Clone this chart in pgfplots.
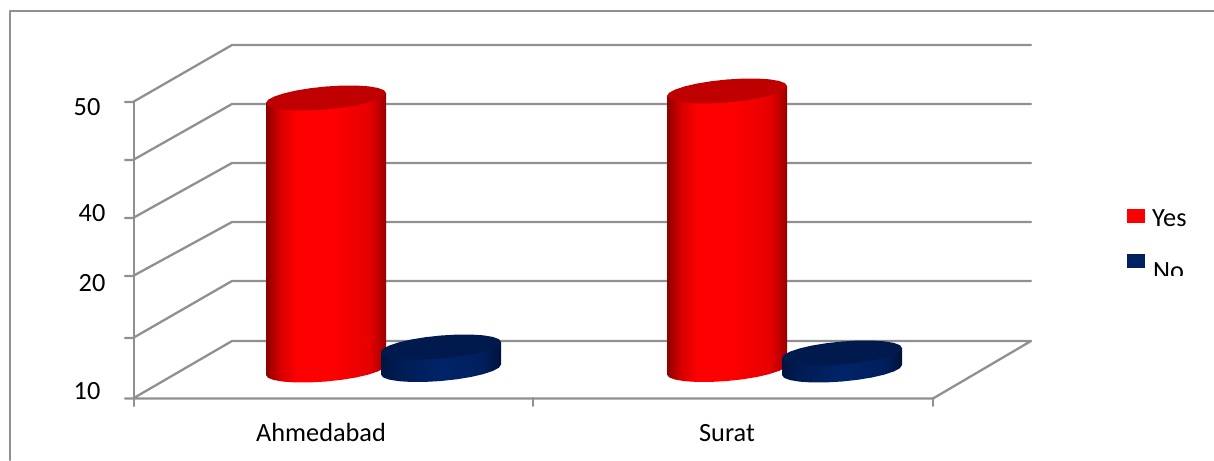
\documentclass[border=0pt]{standalone}
\usepackage{pgfplots}
\pgfplotsset{compat=1.18}
\usepackage{pgfplotstable}
\usepackage{fontspec}
\setmainfont{Carlito}
\definecolor{gridc}{HTML}{909090}
\definecolor{redtop}{HTML}{C00000}
\definecolor{bluetop}{HTML}{001A4D}
\definecolor{legblue}{HTML}{002060}
\definecolor{ra}{HTML}{8C0000}
\definecolor{rb}{HTML}{D80000}
\definecolor{rc}{HTML}{FF0000}
\definecolor{rd}{HTML}{E60000}
\definecolor{re}{HTML}{C00000}
\definecolor{rf}{HTML}{940000}
\definecolor{ba}{HTML}{001440}
\definecolor{bb}{HTML}{001C54}
\definecolor{bc}{HTML}{002468}
\definecolor{bd}{HTML}{001E5C}
\definecolor{be}{HTML}{001238}
\pgfdeclarehorizontalshading{redcyl}{100bp}{color(0bp)=(ra);color(25bp)=(ra);color(31bp)=(rb);color(38bp)=(rc);color(52bp)=(rc);color(68bp)=(rd);color(72bp)=(re);color(75bp)=(rf);color(100bp)=(rf)}
\pgfdeclarehorizontalshading{bluecyl}{100bp}{color(0bp)=(ba);color(25bp)=(ba);color(32bp)=(bb);color(50bp)=(bc);color(68bp)=(bd);color(75bp)=(be);color(100bp)=(be)}
% unit ellipse, c = cos t, s = sin t
\pgfplotstableread{
c s
1 0
0.966 0.259
0.866 0.5
0.707 0.707
0.5 0.866
0.259 0.966
0 1
-0.259 0.966
-0.5 0.866
-0.707 0.707
-0.866 0.5
-0.966 0.259
-1 0
-0.966 -0.259
-0.866 -0.5
-0.707 -0.707
-0.5 -0.866
-0.259 -0.966
0 -1
0.259 -0.966
0.5 -0.866
0.707 -0.707
0.866 -0.5
0.966 -0.259
1 0
}\ellipsetable
% side of a cylinder: h=1 top, h=0 bottom
\pgfplotstableread{
c s h
-1 0 1
-1 0 0
-0.966 -0.259 0
-0.866 -0.5 0
-0.707 -0.707 0
-0.5 -0.866 0
-0.259 -0.966 0
0 -1 0
0.259 -0.966 0
0.5 -0.866 0
0.707 -0.707 0
0.866 -0.5 0
0.966 -0.259 0
1 0 0
1 0 1
}\sidetable
% #1 centre x, #2 top centre y, #3 bottom centre y, #4 shading, #5 top colour
\newcommand{\cyl}[5]{%
\addplot[draw=none,shading=#4] table[x expr={#1+60*\thisrow{c}},y expr={(#2)*\thisrow{h}+(#3)*(1-\thisrow{h})-5*\thisrow{c}-11.5*\thisrow{s}}] {\sidetable} -- cycle;
\addplot[draw=none,fill=#5] table[x expr={#1+60*\thisrow{c}},y expr={(#2)-5*\thisrow{c}-11.5*\thisrow{s}}] {\ellipsetable} -- cycle;
}
\begin{document}
\begin{tikzpicture}
\path[use as bounding box] (0,0) rectangle (1214pt,460pt);
\begin{axis}[
  at={(0,0)},anchor=south west,
  scale only axis,width=1214pt,height=460pt,
  xmin=0,xmax=1214,ymin=0,ymax=460,y dir=reverse,
  hide axis,clip=true,
  every axis plot/.append style={line cap=round,line join=round}]
% frame
\addplot[gridc,line width=2.3pt] coordinates {(10,460) (10,11) (1214,11)};
% back wall and side wall gridlines
\addplot[gridc,line width=2.3pt] coordinates {(125,102) (133,102) (232,45) (1031,45)};
\addplot[gridc,line width=2.3pt] coordinates {(125,160) (133,160) (232,104) (1031,104)};
\addplot[gridc,line width=2.3pt] coordinates {(125,218) (133,218) (232,163) (1031,163)};
\addplot[gridc,line width=2.3pt] coordinates {(125,276) (133,276) (232,222) (1031,222)};
\addplot[gridc,line width=2.3pt] coordinates {(125,338) (133,338) (232,281) (1031,281)};
\addplot[gridc,line width=2.3pt] coordinates {(125,398.5) (133,398.5) (232,341) (1031,341) (933,398.5) (133,398.5)};
\addplot[gridc,line width=2.3pt] coordinates {(134,102) (134,406)};
\addplot[gridc,line width=1.6pt] coordinates {(533,398) (533,406)};
\addplot[gridc,line width=1.6pt] coordinates {(933,398) (933,406)};
% cylinders
\cyl{326}{98}{370}{redcyl}{redtop}
\cyl{441}{347}{369.5}{bluecyl}{bluetop}
\cyl{727}{91}{369.5}{redcyl}{redtop}
\cyl{842}{353}{370}{bluecyl}{bluetop}
% legend
\addplot[draw=none,fill=red] coordinates {(1127,209) (1145,209) (1145,223) (1127,223)} -- cycle;
\addplot[draw=none,fill=legblue] coordinates {(1127,254) (1145,254) (1145,268) (1127,268)} -- cycle;
% text
\def\fs{\fontsize{26.3}{30}\selectfont}
\node[font=\fs,anchor=base] at (axis cs:87,115) {50};
\node[font=\fs,anchor=base] at (axis cs:92,221) {40};
\node[font=\fs,anchor=base] at (axis cs:92,291) {20};
\node[font=\fs,anchor=base] at (axis cs:87,399) {10};
\node[font=\fs,anchor=base] at (axis cs:321,441) {Ahmedabad};
\node[font=\fs,anchor=base] at (axis cs:727,441) {Surat};
\node[font=\fs,anchor=base west,inner sep=0pt] at (axis cs:1152,226.5) {Yes};
\node[font=\fs,anchor=base west,inner sep=0pt] at (axis cs:1153,279) {No};
\fill[white] (axis cs:1140,275.5) rectangle (axis cs:1200,300);
\end{axis}
\end{tikzpicture}
\end{document}
